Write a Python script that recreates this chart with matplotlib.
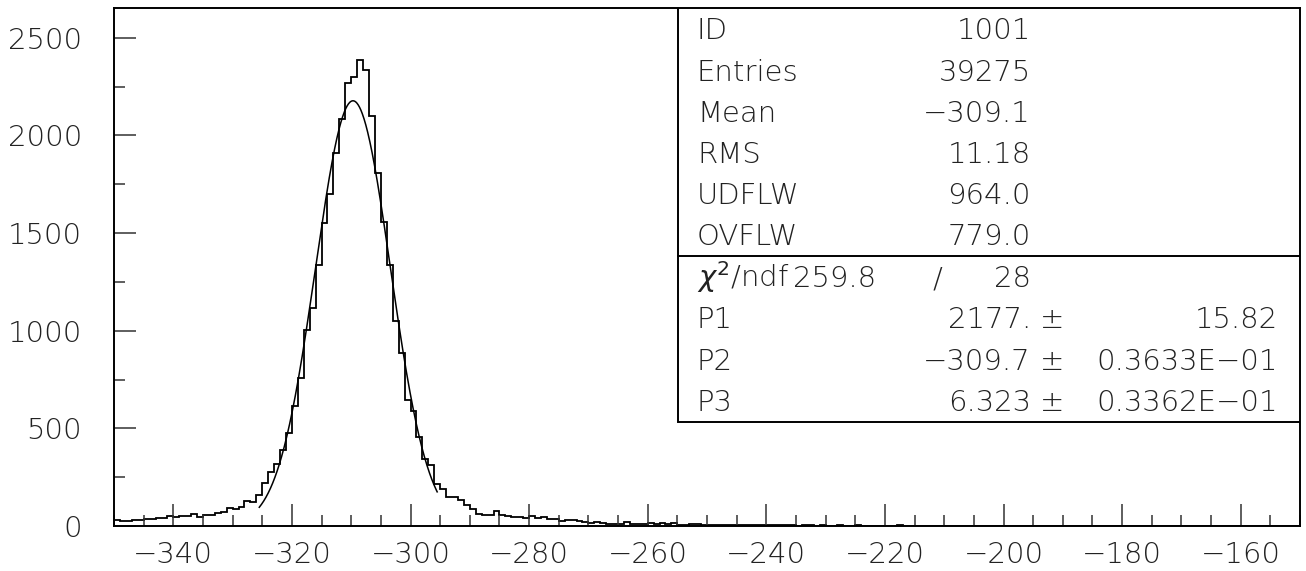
import numpy as np
import matplotlib
matplotlib.use("Agg")
import matplotlib.pyplot as plt
from matplotlib.patches import Rectangle
from matplotlib.ticker import MultipleLocator, FixedLocator

# ---------------- data ----------------
bin_lo = -350.0
bin_hi = -150.0
counts = [
    # -350 .. -341
    30, 26, 27, 32, 33, 37, 37, 39, 42, 49,
    # -340 .. -331
    48, 50, 52, 60, 48, 56, 57, 68, 72, 90,
    # -330 .. -321
    86, 96, 128, 124, 157, 219, 274, 316, 387, 475,
    # -320 .. -311
    615, 757, 1004, 1115, 1337, 1550, 1698, 1909, 2083, 2270,
    # -310 .. -301
    2300, 2385, 2333, 2097, 1807, 1554, 1335, 1050, 885, 645,
    # -300 .. -291
    591, 456, 342, 312, 215, 188, 150, 147, 133, 110,
    # -290 .. -281
    85, 61, 58, 58, 77, 55, 51, 48, 44, 39,
    # -280 .. -271
    51, 39, 44, 36, 38, 27, 31, 33, 26, 20,
    # -270 .. -261
    17, 20, 15, 12, 12, 10, 20, 12, 10, 10,
    # -260 .. -251
    17, 12, 14, 12, 14, 7, 7, 8, 12, 6,
    # -250 .. -241
    6, 6, 5, 5, 5, 4, 5, 4, 3, 4,
    # -240 .. -231
    4, 3, 3, 4, 3, 2, 3, 3, 2, 3,
    # -230 .. -221
    2, 2, 3, 2, 2, 3, 2, 2, 2, 2,
    # -220 .. -211
    2, 2, 3, 2, 1, 2, 2, 1, 2, 1,
    # -210 .. -201
    2, 1, 1, 2, 1, 1, 1, 2, 1, 1,
    # -200 .. -191
    1, 1, 1, 1, 1, 1, 1, 1, 0, 1,
    # -190 .. -181
    1, 1, 0, 1, 1, 0, 1, 1, 0, 1,
    # -180 .. -171
    0, 1, 1, 0, 1, 0, 1, 0, 1, 0,
    # -170 .. -161
    1, 0, 1, 0, 0, 1, 0, 1, 0, 0,
    # -160 .. -151
    1, 0, 0, 1, 0, 0, 0, 1, 0, 0,
]

# Fit parameters (Gaussian) and fit range, as printed in the stats box
fit_P1 = 2177.0
fit_P2 = -309.7
fit_P3 = 6.323
fit_range = (-325.5, -295.5)

stat_labels = ["ID", "Entries", "Mean", "RMS", "UDFLW", "OVFLW"]
stat_values = ["1001", "39275", "\u2212309.1", "11.18", "964.0", "779.0"]
chi2_value = "259.8"
ndf_value = "28"
par_labels = ["P1", "P2", "P3"]
par_values = ["2177.", "\u2212309.7", "6.323"]
par_errors = ["15.82", "0.3633E\u221201", "0.3362E\u221201"]

x_major = list(range(-340, -159, 20))
y_major = [0, 500, 1000, 1500, 2000, 2500]

# ---------------- figure ----------------
W, H = 1306, 571
fig = plt.figure(figsize=(W / 100, H / 100), dpi=100)
fig.patch.set_facecolor("white")

L, R, T, B = 114, 1300, 8, 526
ax = fig.add_axes([L / W, 1 - B / H, (R - L) / W, (B - T) / H])

FONT = ["DejaVu Sans"]
FS = 21
TXT = "#222222"

edges = np.linspace(bin_lo, bin_hi, len(counts) + 1)
ax.stairs(counts, edges, color="black", lw=1.3, baseline=0)

xf = np.linspace(fit_range[0], fit_range[1], 400)
yf = fit_P1 * np.exp(-0.5 * ((xf - fit_P2) / fit_P3) ** 2)
ax.plot(xf, yf, color="black", lw=1.1)

ax.set_xlim(bin_lo, bin_hi)
ax.set_ylim(0, 2652)

ax.xaxis.set_major_locator(FixedLocator(x_major))
ax.xaxis.set_minor_locator(MultipleLocator(5))
ax.yaxis.set_major_locator(FixedLocator(y_major))
ax.yaxis.set_minor_locator(MultipleLocator(250))

ax.tick_params(axis="both", which="major", direction="in", length=16, width=1.1,
               color="#333333", labelsize=FS, labelcolor=TXT)
ax.tick_params(axis="both", which="minor", direction="in", length=8, width=1.1,
               color="#333333")
ax.tick_params(axis="x", which="major", pad=11)
ax.tick_params(axis="y", which="major", pad=23)
ax.set_xticklabels([f"\u2212{abs(v)}" for v in x_major], family=FONT, fontweight="light")
ax.set_yticklabels([str(v) for v in y_major], family=FONT, fontweight="light")

for s in ax.spines.values():
    s.set_linewidth(1.4)
    s.set_color("black")

# ---------------- stats box ----------------
def ax_xy(px, py):
    return ((px - L) / (R - L), (B - py) / (B - T))

bx0, by0 = ax_xy(678, 422)
bx1, by1 = ax_xy(1300, 8)
ax.add_patch(Rectangle((bx0, by0), bx1 - bx0, by1 - by0, transform=ax.transAxes,
                       facecolor="white", edgecolor="black", lw=1.4, zorder=5))
dx0, dy = ax_xy(678, 256)
ax.plot([dx0, 1.0], [dy, dy], transform=ax.transAxes, color="black", lw=1.4, zorder=6)

baselines_top = [39, 81, 122, 163, 204, 245]
baselines_bot = [287, 328, 370, 411]
lab_x = 697
val_r = 1031

def put(px, py, s, ha="left"):
    x, y = ax_xy(px, py)
    ax.text(x, y, s, transform=ax.transAxes, ha=ha, va="baseline", fontsize=FS,
            color=TXT, family=FONT, fontweight="light", zorder=7)

for lab, val, by in zip(stat_labels, stat_values, baselines_top):
    put(lab_x, by, lab)
    put(val_r, by, val, ha="right")

put(lab_x, baselines_bot[0], r"$\chi^2$/ndf")
put(793, baselines_bot[0], chi2_value)
put(937, baselines_bot[0], "/", ha="center")
put(val_r, baselines_bot[0], ndf_value, ha="right")

for lab, val, err, by in zip(par_labels, par_values, par_errors, baselines_bot[1:]):
    put(lab_x, by, lab)
    put(val_r, by, val, ha="right")
    put(1052, by, "\u00b1", ha="center")
    put(1278, by, err, ha="right")

fig.savefig("out.png", dpi=100, facecolor="white")
